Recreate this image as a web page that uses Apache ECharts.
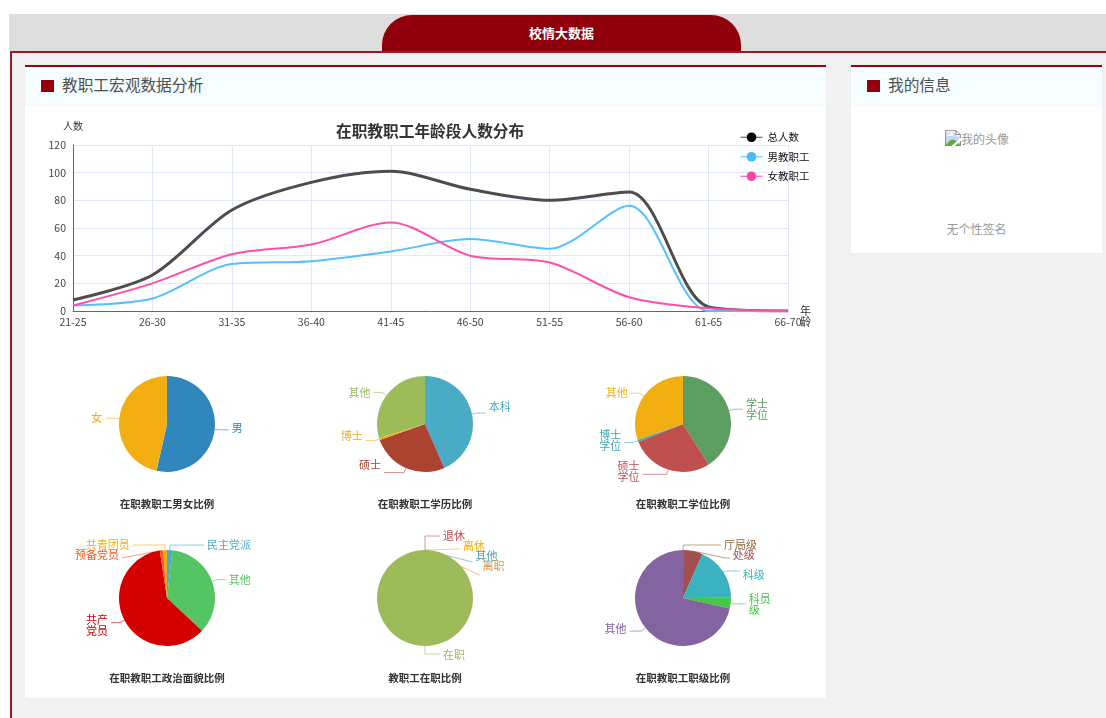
<!DOCTYPE html>
<html>
<head>
<meta charset="utf-8">
<title>校情大数据</title>
<script src="https://cdn.jsdelivr.net/npm/echarts@6/dist/echarts.min.js"></script>
<style>
  html, body { margin: 0; padding: 0; background: #fff; overflow: hidden; }
  body { width: 1106px; height: 718px; position: relative; font-family: "Noto Sans CJK SC", sans-serif; }
  .band { position: absolute; left: 9px; top: 14px; width: 1097px; height: 37px; background: #dedede; }
  .tab { position: absolute; left: 382px; top: 15px; width: 359px; height: 36px; background: #8f000b; border-radius: 30px 30px 0 0;
    color: #fff; font-size: 13px; font-weight: bold; text-align: center; line-height: 36px; }
  .frame { position: absolute; left: 10px; top: 51px; width: 1096px; height: 667px; box-sizing: border-box; background: #f2f2f2;
    border-top: 2px solid #9c1a24; border-left: 2px solid #9c1a24; }
  .panel { position: absolute; top: 65px; background: #fff; border-top: 2px solid #9a0010; box-shadow: 0 0 2px #ececec; }
  .panel .head { height: 39px; background: #f5fdff; position: relative; color: #505050; font-size: 15.7px; line-height: 36px; padding-left: 37px; }
  .panel .head i { position: absolute; left: 16px; top: 13px; width: 13px; height: 12px; background: #93000d; }
  #main { left: 25px; width: 801px; height: 631px; }
  #side { left: 851px; width: 251px; height: 186px; }
  .avatar { position: absolute; left: 94px; top: 63px; color: #999; font-size: 12px; }
  .sign { position: absolute; left: 0; width: 100%; top: 153px; text-align: center; color: #999; font-size: 12px; }
  .chart { position: absolute; }
</style>
</head>
<body>
<div class="band"></div>
<div class="tab">校情大数据</div>
<div class="frame"></div>
<div class="panel" id="main"><div class="head"><i></i>教职工宏观数据分析</div></div>
<div class="panel" id="side">
  <div class="head"><i></i>我的信息</div>
  <img class="avatar" src="avatar.png" alt="我的头像">
  <div class="sign">无个性签名</div>
</div>
<div class="chart" id="lineChart" style="left:25px;top:106px;width:801px;height:240px"></div>
<div class="chart" id="pie1" style="left:38px;top:360px;width:258px;height:160px"></div>
<div class="chart" id="pie2" style="left:296px;top:360px;width:258px;height:160px"></div>
<div class="chart" id="pie3" style="left:554px;top:360px;width:258px;height:160px"></div>
<div class="chart" id="pie4" style="left:38px;top:520px;width:258px;height:170px"></div>
<div class="chart" id="pie5" style="left:296px;top:520px;width:258px;height:170px"></div>
<div class="chart" id="pie6" style="left:554px;top:520px;width:258px;height:170px"></div>

<script>
const FONT = '"Noto Sans CJK SC", sans-serif'

const ageGroups = ['21-25', '26-30', '31-35', '36-40', '41-45', '46-50', '51-55', '56-60', '61-65', '66-70']
const totalCount = [8, 26, 73, 93, 101, 88, 80, 86, 3, 0]
const maleCount = [4, 9, 34, 36, 43, 52, 45, 76, 0, 0]
const femaleCount = [4, 20, 41, 48, 64, 40, 35, 10, 2, 0]

const genderNames = ['男', '女']
const genderValues = [53.5, 46.5]
const genderColors = ['#3186bb', '#f2ae10']

const eduNames = ['本科', '硕士', '博士', '其他']
const eduValues = [43.4, 26.2, 0.7, 29.7]
const eduColors = ['#4aabc4', '#ab4330', '#f2ae10', '#9dbb59']

const degreeNames = ['学士\n学位', '硕士\n学位', '博士\n学位', '其他']
const degreeValues = [41, 28, 0.7, 30.3]
const degreeColors = ['#5b9e60', '#c05050', '#3fa9b8', '#f2ae10']

const partyNames = ['民主党派', '其他', '共产\n党员', '预备党员', '共青团员']
const partyValues = [1.8, 35.2, 60.6, 1.1, 1.3]
const partyColors = ['#4aabc8', '#55c462', '#d40000', '#ff5a1f', '#f2ae10']

const activeNames = ['在职']
const activeValues = [99.98]
const activeColors = ['#9dbb59']
const leftNames = ['退休', '离休', '其他', '离职']
const leftValues = [0.005, 0.005, 0.005, 0.005]
const leftColors = ['#c05050', '#f2ae10', '#4a9fb0', '#d9954a']

const rankNames = ['厅局级', '处级', '科级', '科员\n级', '其他']
const rankValues = [0.05, 6.6, 18.3, 3.6, 71.45]
const rankColors = ['#8f6a3a', '#a34f4f', '#3ab2bf', '#44c946', '#8463a1']

function lineSeries(name, data, lineColor, dotColor, width) {
  return {
    name: name,
    type: 'line',
    data: data,
    smooth: 0.3,
    showSymbol: false,
    symbol: 'circle',
    symbolSize: 10,
    lineStyle: { color: lineColor, width: width },
    itemStyle: { color: dotColor }
  }
}

const lineChart = echarts.init(document.getElementById('lineChart'))
lineChart.setOption({
  animation: false,
  textStyle: { fontFamily: FONT },
  title: {
    text: '在职教职工年龄段人数分布',
    left: 306,
    top: 12,
    textStyle: { fontSize: 15.7, fontWeight: 'bold', color: '#333', fontFamily: FONT }
  },
  legend: {
    orient: 'vertical',
    left: 710,
    top: 21,
    itemWidth: 22,
    itemHeight: 12,
    itemGap: 9,
    lineStyle: { width: 1 },
    textStyle: { fontSize: 10.5, color: '#111', fontFamily: FONT },
    data: ['总人数', '男教职工', '女教职工']
  },
  grid: { left: 48, right: 38, top: 39, bottom: 35 },
  xAxis: {
    type: 'category',
    data: ageGroups,
    boundaryGap: false,
    name: '\n年\n龄',
    nameGap: 12,
    nameMoveOverlap: false,
    nameTextStyle: { fontSize: 11, color: '#333', lineHeight: 11, fontFamily: FONT },
    axisLine: { lineStyle: { color: '#666', width: 1 } },
    axisTick: { show: false },
    axisLabel: { fontSize: 10.5, color: '#444', showMaxLabel: true, margin: 6 },
    splitLine: { show: true, lineStyle: { color: '#dfe8f8' } }
  },
  yAxis: {
    type: 'value',
    min: 0,
    max: 120,
    interval: 20,
    name: '人数',
    nameGap: 14,
    nameTextStyle: { fontSize: 10, color: '#333', align: 'center', fontFamily: FONT },
    axisLine: { show: true, lineStyle: { color: '#666', width: 1 } },
    axisTick: { show: false },
    axisLabel: { fontSize: 10.5, color: '#444', margin: 7 },
    splitLine: { show: true, lineStyle: { color: '#dfe8f8' } }
  },
  series: [
    lineSeries('总人数', totalCount, '#4d4d4d', '#000', 3),
    lineSeries('男教职工', maleCount, '#55bfff', '#45b8ff', 2),
    lineSeries('女教职工', femaleCount, '#ff4fa8', '#ff45a5', 2)
  ]
})

// look 里放标签调整：reach 加长引导线，lift 只挪文字的上下
function pieSeries(names, values, colors, centerY, look) {
  const reach = look.reach || []
  const lift = look.lift || []
  return {
    type: 'pie',
    z: look.z || 2,
    center: [129, centerY],
    radius: [0, 48],
    startAngle: 90,
    clockwise: true,
    avoidLabelOverlap: true,
    label: { fontSize: 11, lineHeight: look.lineHeight || 11, fontFamily: FONT, distanceToLabelLine: 3 },
    labelLine: { length: look.length || 5, length2: 9, lineStyle: { width: 1, opacity: 0.6 } },
    labelLayout: params => (lift[params.dataIndex] ? { dy: lift[params.dataIndex] } : {}),
    data: names.map((name, i) => ({
      name: name,
      value: values[i],
      itemStyle: { color: colors[i] },
      label: { color: colors[i] },
      labelLine: { length2: 9 + (reach[i] || 0) }
    }))
  }
}

function pieOption(title, titleTop, series) {
  return {
    animation: false,
    textStyle: { fontFamily: FONT },
    title: {
      text: title,
      left: 'center',
      top: titleTop,
      textStyle: { fontSize: 10.5, fontWeight: 'bold', color: '#333', fontFamily: FONT }
    },
    series: series
  }
}

function drawPie(id, option) {
  echarts.init(document.getElementById(id)).setOption(option)
}

drawPie('pie1', pieOption('在职教职工男女比例', 134, [
  pieSeries(genderNames, genderValues, genderColors, 64, { lift: [-2] })
]))
drawPie('pie2', pieOption('在职教职工学历比例', 134, [
  pieSeries(eduNames, eduValues, eduColors, 64, { reach: [0, 11], lift: [-6, -8, -5] })
]))
drawPie('pie3', pieOption('在职教职工学位比例', 134, [
  pieSeries(degreeNames, degreeValues, degreeColors, 64, { reach: [0, 15], lift: [0, -3, -2] })
]))
drawPie('pie4', pieOption('在职教职工政治面貌比例', 148, [
  pieSeries(partyNames, partyValues, partyColors, 78, { reach: [25, 0, 0, 4, 23], lift: [0, 0, 3, -3] })
]))

// 在职几乎占满：其余四类极小，放在下层，只露出标签和引导线
const leftSeries = pieSeries(leftNames, leftValues, leftColors, 78, {
  z: 1, length: 14, lineHeight: 10, reach: [6, -9, -9, -9], lift: [0, -3, -6, -9]
})
leftSeries.data.push({ name: '', value: activeValues[0], itemStyle: { color: 'transparent' }, label: { show: false }, labelLine: { show: false } })
drawPie('pie5', pieOption('教职工在职比例', 148, [
  leftSeries,
  pieSeries(activeNames, activeValues, activeColors, 78, { length: 8, reach: [6], lift: [1] })
]))

drawPie('pie6', pieOption('在职教职工职级比例', 148, [
  pieSeries(rankNames, rankValues, rankColors, 78, { reach: [29, 6, 5, 4, 3], lift: [0, -3, 4, 0, -2] })
]))
</script>
</body>
</html>
